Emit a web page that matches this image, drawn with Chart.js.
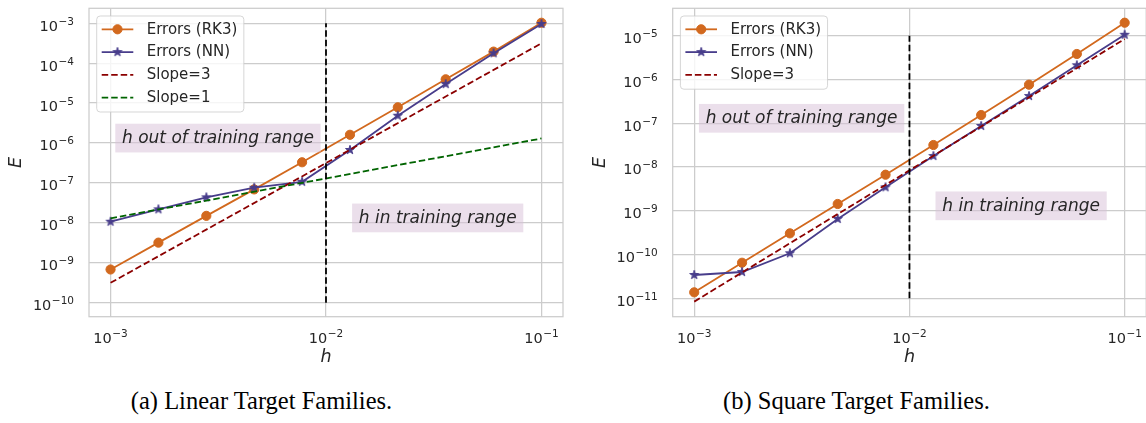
<!DOCTYPE html>
<html><head><meta charset="utf-8">
<script src="https://cdn.jsdelivr.net/npm/chart.js@4.4.1/dist/chart.umd.min.js"></script>
<style>
html,body{margin:0;padding:0;background:#fff;width:1146px;height:423px;overflow:hidden;position:relative}
#c1{position:absolute;left:0;top:0}
#c2{position:absolute;left:573px;top:0}
.cap{position:absolute;top:389px;line-height:24.5px;font-family:'Liberation Serif','DejaVu Serif',serif;font-size:24.5px;color:#000;white-space:nowrap;transform:translateX(-50%)}
</style></head><body>
<canvas id="c1" width="573" height="380" style="width:573px;height:380px"></canvas>
<canvas id="c2" width="580" height="380" style="width:580px;height:380px"></canvas>
<div class="cap" style="left:261.5px">(a) Linear Target Families.</div>
<div class="cap" style="left:856.5px">(b) Square Target Families.</div>
<script>
// ---------------- data ----------------
const hValues = [1e-3, 1.668e-3, 2.783e-3, 4.642e-3, 7.743e-3, 1.292e-2, 2.154e-2, 3.594e-2, 5.995e-2, 1e-1];

const linearRK3 = [6.8e-10, 3.2e-9, 1.5e-8, 6.9e-8, 3.3e-7, 1.61e-6, 7.85e-6, 3.95e-5, 1.95e-4, 1.03e-3];
const linearNN  = [1.07e-8, 2.18e-8, 4.36e-8, 7.6e-8, 1.07e-7, 6.7e-7, 4.83e-6, 3.0e-5, 1.77e-4, 9.6e-4];
const slopeH = [1e-3, 1e-1];
const linearSlope3 = [3.15e-10, 3.15e-4];
const linearSlope1 = [1.3e-8, 1.3e-6];
const boundaryH = [1e-2, 1e-2];
const linearBoundaryE = [1e-10, 1e-3];

const squareRK3 = [1.37e-11, 6.5e-11, 3.05e-10, 1.43e-9, 6.67e-9, 3.18e-8, 1.54e-7, 7.6e-7, 3.82e-6, 1.98e-5];
const squareNN  = [3.41e-11, 3.99e-11, 1.07e-10, 6.5e-10, 3.44e-9, 1.78e-8, 8.65e-8, 4.19e-7, 2.11e-6, 1.05e-5];
const squareSlope3 = [8.4e-12, 8.4e-6];
const squareBoundaryE = [1e-11, 1e-5];

const xTickExponents = [-3, -2, -1];
const linearYTickExponents = [-10, -9, -8, -7, -6, -5, -4, -3];
const squareYTickExponents = [-11, -10, -9, -8, -7, -6, -5];

const seriesLabels = ['Errors (RK3)', 'Errors (NN)', 'Slope=3', 'Slope=1'];
const noteOut = 'h out of training range';
const noteIn = 'h in training range';
const linearNotePos = [[1.13e-3, 1e-6], [1.42e-2, 1e-8]];
const squareNotePos = [[1.13e-3, 1e-7], [1.42e-2, 1e-9]];

// ---------------- styles ----------------
const RK3_COLOR = '#D2691E';
const NN_COLOR = '#483D8B';
const S3_COLOR = '#8B0000';
const S1_COLOR = '#006400';
const TEXT = '#262626';
const GRID = '#cccccc';
const DASH = [6.5, 3];
const FONT = "'DejaVu Sans'";
Chart.defaults.font.family = FONT;

function makeStar(color){
  const c=document.createElement('canvas'); c.width=12; c.height=12;
  const g=c.getContext('2d'); const R=4.7, r=R*0.381966;
  g.beginPath();
  for(let i=0;i<10;i++){const a=-Math.PI/2+i*Math.PI/5; const rr=i%2?r:R; const x=6+rr*Math.cos(a), y=6+rr*Math.sin(a); if(i) g.lineTo(x,y); else g.moveTo(x,y);}
  g.closePath(); g.fillStyle=color; g.fill(); g.lineWidth=1; g.strokeStyle=color; g.lineJoin='miter'; g.stroke();
  return c;
}
const starImg = makeStar(NN_COLOR);

function pts(xs, ys){ return ys.map((y,i)=>({x:xs[i], y:y})); }

function roundRect(ctx,x,y,w,h,r){
  ctx.beginPath(); ctx.moveTo(x+r,y); ctx.lineTo(x+w-r,y); ctx.arcTo(x+w,y,x+w,y+r,r);
  ctx.lineTo(x+w,y+h-r); ctx.arcTo(x+w,y+h,x+w-r,y+h,r); ctx.lineTo(x+r,y+h); ctx.arcTo(x,y+h,x,y+h-r,r);
  ctx.lineTo(x,y+r); ctx.arcTo(x,y,x+r,y,r); ctx.closePath();
}

// mathtext-like 10^e label: base at 14.5px, exponent at 10.5px raised
const BASE_FONT = '14.5px ' + FONT, SUP_FONT = '10.5px ' + FONT;
function powLabel(ctx, exp, x, baseline, align){
  const base = '10', sup = '\u2212' + String(Math.abs(exp));
  ctx.font = BASE_FONT; const wb = ctx.measureText(base).width;
  ctx.font = SUP_FONT; const ws = ctx.measureText(sup).width;
  const total = wb + 0.5 + ws;
  let x0 = align === 'center' ? x - total/2 : x - total;
  ctx.fillStyle = TEXT; ctx.textAlign = 'left'; ctx.textBaseline = 'alphabetic';
  ctx.font = BASE_FONT; ctx.fillText(base, x0, baseline);
  ctx.font = SUP_FONT; ctx.fillText(sup, x0 + wb + 0.5, baseline - 6);
}

const overlayPlugin = {
  id: 'overlay',
  afterDatasetsDraw(chart, args, opts){
    const ctx = chart.ctx, a = chart.chartArea, xs = chart.scales.x, ys = chart.scales.y;
    ctx.save();
    ctx.font = 'italic 17px ' + FONT;
    opts.notes.forEach(n=>{
      const px = xs.getPixelForValue(n.x), py = ys.getPixelForValue(n.y);
      const w = ctx.measureText(n.text).width;
      ctx.fillStyle = 'rgba(216,191,216,0.5)';
      ctx.fillRect(px-6.7, py-19.3, w+13.4, 28.7);
      ctx.fillStyle = TEXT; ctx.textBaseline='alphabetic'; ctx.textAlign='left';
      ctx.fillText(n.text, px, py);
    });
    ctx.strokeStyle = GRID; ctx.lineWidth = 1.25;
    ctx.strokeRect(a.left, a.top, a.right-a.left, a.bottom-a.top);
    ctx.restore();
  },
  afterDraw(chart, args, opts){
    const ctx = chart.ctx, a = chart.chartArea, xs = chart.scales.x, ys = chart.scales.y;
    ctx.save();
    // tick labels at the scales' own tick positions
    xs.ticks.forEach((t, i) => powLabel(ctx, xTickExponents[i], xs.getPixelForValue(t.value), a.bottom + 26, 'center'));
    ys.ticks.forEach((t, i) => powLabel(ctx, opts.yExp[i], a.left - 15, ys.getPixelForValue(t.value) + 7.4, 'right'));
    // legend
    const items = chart.data.datasets.slice(0, opts.count);
    ctx.font = '15px ' + FONT;
    let maxW = 0; items.forEach(d=>{maxW=Math.max(maxW, ctx.measureText(d.label).width);});
    const bx = a.left+7.7, by = a.top+7.7, bw = 50+maxW+6.5, bh = items.length*22.8+4.8;
    roundRect(ctx,bx,by,bw,bh,3.5);
    ctx.fillStyle='rgba(255,255,255,0.8)'; ctx.fill();
    ctx.strokeStyle='rgba(204,204,204,0.8)'; ctx.lineWidth=1; ctx.stroke();
    items.forEach((d,i)=>{
      const cy = by+13.3+i*22.8;
      ctx.beginPath(); ctx.setLineDash(d.borderDash||[]);
      ctx.strokeStyle=d.borderColor; ctx.lineWidth=d.borderWidth;
      ctx.moveTo(bx+5, cy); ctx.lineTo(bx+36.6, cy); ctx.stroke(); ctx.setLineDash([]);
      const mx = bx+20.8;
      if (d.pointStyle==='circle'){ ctx.beginPath(); ctx.arc(mx,cy,d.pointRadius,0,Math.PI*2); ctx.fillStyle=d.borderColor; ctx.fill(); ctx.lineWidth=1; ctx.stroke(); }
      else if (d.pointStyle===starImg){ ctx.drawImage(starImg, mx-6, cy-6); }
      ctx.fillStyle=TEXT; ctx.textBaseline='middle'; ctx.textAlign='left';
      ctx.font = '15px ' + FONT;
      ctx.fillText(d.label, bx+50, cy+0.5);
    });
    ctx.restore();
  }
};

function buildChart(id, cfg){
  const datasets = [
    {label: seriesLabels[0], data: pts(hValues, cfg.rk3), borderColor: RK3_COLOR, backgroundColor: RK3_COLOR,
     borderWidth: 1.8, pointStyle: 'circle', pointRadius: 4.6, pointBorderWidth: 1, pointBackgroundColor: RK3_COLOR, pointBorderColor: RK3_COLOR, order: 6},
    {label: seriesLabels[1], data: pts(hValues, cfg.nn), borderColor: NN_COLOR, backgroundColor: NN_COLOR,
     borderWidth: 1.8, pointStyle: starImg, pointRadius: 5, order: 5},
    {label: seriesLabels[2], data: pts(slopeH, cfg.slope3), borderColor: S3_COLOR, borderWidth: 1.8, borderDash: DASH, pointRadius: 0, order: 4}
  ];
  if (cfg.slope1) datasets.push({label: seriesLabels[3], data: pts(slopeH, cfg.slope1), borderColor: S1_COLOR, borderWidth: 1.8, borderDash: DASH, pointRadius: 0, order: 3});
  datasets.push({label: '', data: pts(boundaryH, cfg.boundary), borderColor: '#000000', borderWidth: 1.8, borderDash: DASH, pointRadius: 0, order: 2});
  return new Chart(document.getElementById(id), {
    type: 'line',
    data: {datasets},
    plugins: [overlayPlugin],
    options: {
      responsive: false, animation: false, events: [],
      layout: {padding: {left: 0, right: cfg.padRight, top: 8.3, bottom: 0}},
      plugins: {legend: {display: false}, tooltip: {enabled: false},
        overlay: {count: cfg.slope1 ? 4 : 3, yExp: cfg.yExp, notes: [
          {text: noteOut, x: cfg.notes[0][0], y: cfg.notes[0][1]},
          {text: noteIn, x: cfg.notes[1][0], y: cfg.notes[1][1]}]}},
      scales: {
        x: {type: 'logarithmic', position: 'bottom', min: Math.pow(10,-3.1), max: Math.pow(10,-0.9),
          afterBuildTicks: s => { s.ticks = xTickExponents.map(e => ({value: Math.pow(10, e)})); },
          afterFit: s => { s.height = 63.3; s.paddingLeft = 0; s.paddingRight = 0; s.paddingTop = 0; s.paddingBottom = 0; },
          ticks: {display: false, autoSkip: false},
          grid: {color: GRID, lineWidth: 1.25, drawTicks: false},
          border: {display: false},
          title: {display: true, text: 'h', color: TEXT, font: {size: 17.5, style: 'italic', lineHeight: 1.2}, padding: {top: 0, bottom: 12.5}}
        },
        y: {type: 'logarithmic', position: 'left', min: cfg.yMin, max: cfg.yMax,
          afterBuildTicks: s => { s.ticks = cfg.yExp.map(e => ({value: Math.pow(10, e)})); },
          afterFit: s => { s.width = cfg.yWidth; s.paddingLeft = 0; s.paddingRight = 0; s.paddingTop = 0; s.paddingBottom = 0; },
          ticks: {display: false, autoSkip: false},
          grid: {color: GRID, lineWidth: 1.25, drawTicks: false},
          border: {display: false},
          title: {display: true, text: 'E', color: TEXT, font: {size: 17.5, style: 'italic', lineHeight: 1.2}, padding: {top: cfg.yTitlePad, bottom: 0}}
        }
      }
    }
  });
}

buildChart('c1', {rk3: linearRK3, nn: linearNN, slope3: linearSlope3, slope1: linearSlope1, boundary: linearBoundaryE,
  yMin: Math.pow(10,-10.35), yMax: Math.pow(10,-2.625), yExp: linearYTickExponents, yWidth: 89, padRight: 10, yTitlePad: 5.5, notes: linearNotePos});
buildChart('c2', {rk3: squareRK3, nn: squareNN, slope3: squareSlope3, slope1: null, boundary: squareBoundaryE,
  yMin: Math.pow(10,-11.42), yMax: Math.pow(10,-4.374), yExp: squareYTickExponents, yWidth: 99.7, padRight: 6, yTitlePad: 16.5, notes: squareNotePos});
</script>
</body></html>
